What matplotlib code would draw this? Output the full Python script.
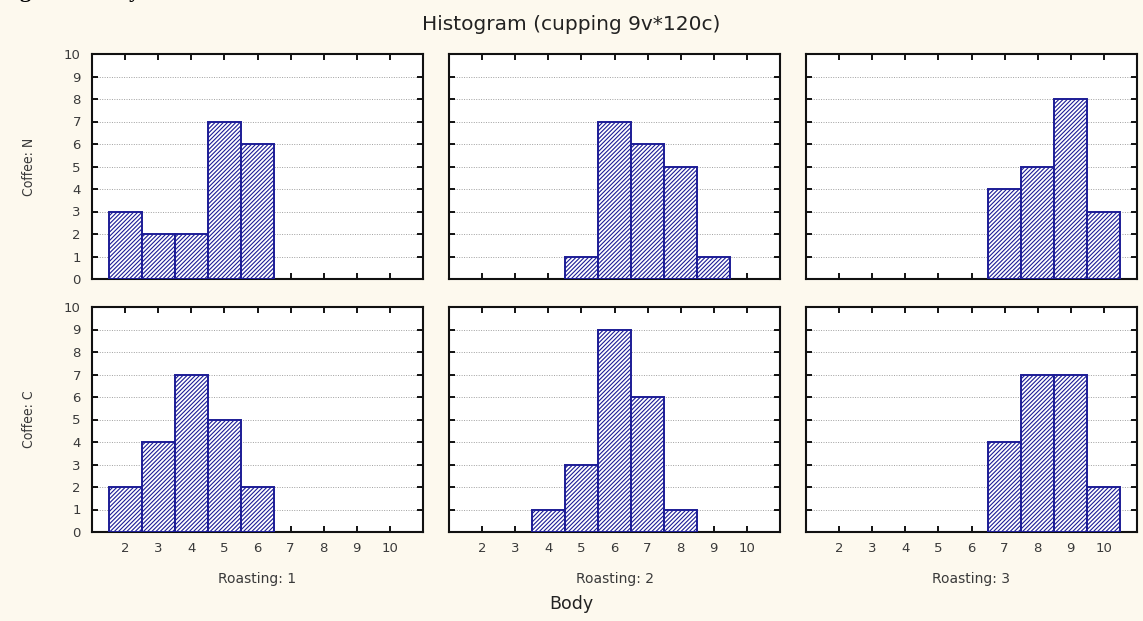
import matplotlib.pyplot as plt
import numpy as np

# Body score histograms, counts per score bin
body_scores = [2, 3, 4, 5, 6, 7, 8, 9, 10]
coffee_rows = ["N", "C"]
roasting_cols = [1, 2, 3]

counts = {
    ("N", 1): [3, 2, 2, 7, 6, 0, 0, 0, 0],
    ("N", 2): [0, 0, 0, 1, 7, 6, 5, 1, 0],
    ("N", 3): [0, 0, 0, 0, 0, 4, 5, 8, 3],
    ("C", 1): [2, 4, 7, 5, 2, 0, 0, 0, 0],
    ("C", 2): [0, 0, 1, 3, 9, 6, 1, 0, 0],
    ("C", 3): [0, 0, 0, 0, 0, 4, 7, 7, 2],
}
y_ticks = list(range(0, 11))

BG = "#fdf9ee"
NAVY = "#1c1c96"
TXT = "#3a3a3a"

plt.rcParams['hatch.linewidth'] = 0.8
plt.rcParams['font.family'] = ['DejaVu Sans']

fig = plt.figure(figsize=(11.43, 6.21), dpi=100, facecolor=BG)

W, H = 1143, 621
lefts = [92, 449, 806]
tops = [54, 307]
pw, ph = 331, 225

for r, coffee in enumerate(coffee_rows):
    for c, roast in enumerate(roasting_cols):
        ax = fig.add_axes([lefts[c] / W, (H - tops[r] - ph) / H, pw / W, ph / H])
        ax.set_facecolor("white")
        vals = np.array(counts[(coffee, roast)])
        xs = np.array(body_scores)
        keep = vals > 0
        ax.bar(xs[keep], vals[keep], width=1.0, color="white", edgecolor=NAVY,
               linewidth=1.4, hatch="////////", zorder=3)
        ax.set_xlim(1, 11)
        ax.set_ylim(0, 10)
        ax.set_xticks(body_scores)
        ax.set_yticks(y_ticks)
        for yv in range(1, 10):
            ax.axhline(yv, color="#a0a0a0", lw=0.7, ls=(0, (1, 1.5)), zorder=1)
        ax.tick_params(direction="in", length=4, width=1.3, top=True, right=True,
                       labelsize=9.5, labelcolor=TXT)
        ax.tick_params(axis="x", pad=7)
        ax.tick_params(axis="y", pad=8)
        for s in ax.spines.values():
            s.set_linewidth(1.5)
            s.set_color("#111111")
        if c != 0:
            ax.set_yticklabels([])
        else:
            ax.text(-0.19, 0.5, f"Coffee: {coffee}", transform=ax.transAxes,
                    rotation=90, ha="center", va="center", fontsize=10,
                    fontstretch="condensed", color=TXT)
        if r == 0:
            ax.set_xticklabels([])
        else:
            ax.set_xticklabels([str(v) for v in body_scores])
            ax.text(0.5, -0.209, f"Roasting: {roast}", transform=ax.transAxes,
                    ha="center", va="center", fontsize=10, color=TXT)

fig.text(0.5, 1 - 25 / H, "Histogram (cupping 9v*120c)", ha="center", va="center",
         fontsize=14.5, color="#222222")
fig.text(0.5, 1 - 604 / H, "Body", ha="center", va="center", fontsize=12.5,
         color="#222222")
# caption line cut off at the top edge of the source image
fig.text(0.0, 1 + 3 / H, "Figure 4. Body", ha="left", va="baseline", fontsize=16,
         fontweight="bold", family=["Liberation Serif", "DejaVu Serif"])

fig.savefig("out.png", dpi=100, facecolor=BG)
